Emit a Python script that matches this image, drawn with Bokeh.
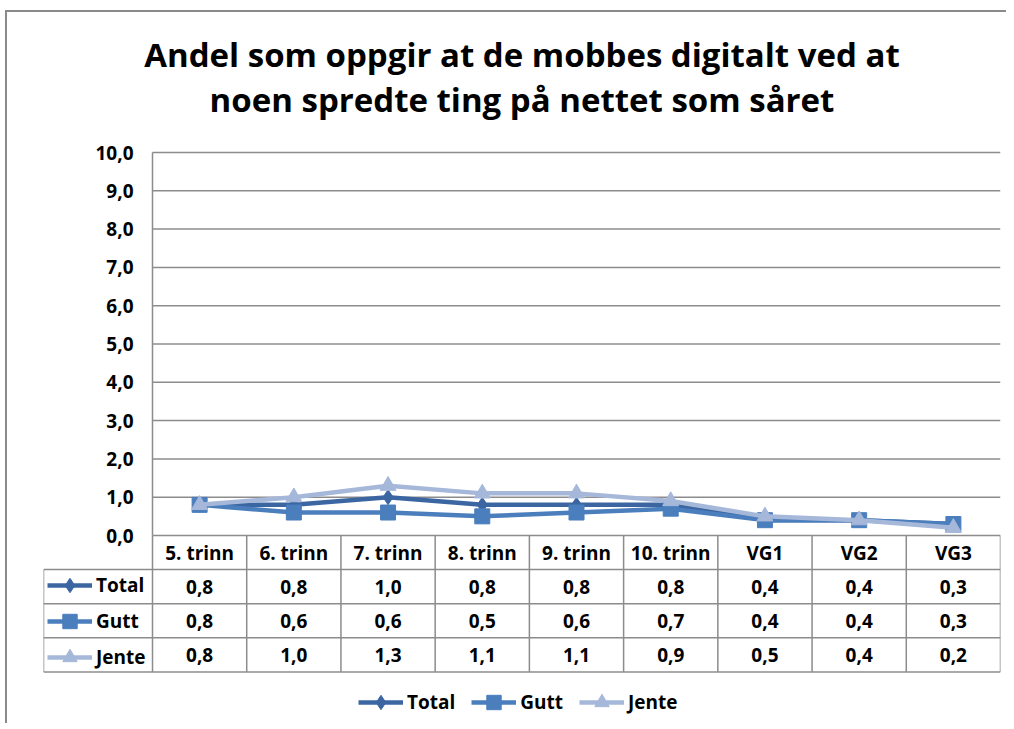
from bokeh.plotting import figure
from bokeh.models import Range1d, Legend, LegendItem, Title, ColumnDataSource
from bokeh.core.properties import value
from bokeh.embed import file_html
from bokeh.resources import INLINE

# ---------------- data ----------------
categories = ["5. trinn", "6. trinn", "7. trinn", "8. trinn", "9. trinn",
              "10. trinn", "VG1", "VG2", "VG3"]
total = [0.8, 0.8, 1.0, 0.8, 0.8, 0.8, 0.4, 0.4, 0.3]
gutt = [0.8, 0.6, 0.6, 0.5, 0.6, 0.7, 0.4, 0.4, 0.3]
jente = [0.8, 1.0, 1.3, 1.1, 1.1, 0.9, 0.5, 0.4, 0.2]
series_names = ["Total", "Gutt", "Jente"]
y_ticks = [0, 1, 2, 3, 4, 5, 6, 7, 8, 9, 10]
y_tick_labels = ["0,0", "1,0", "2,0", "3,0", "4,0", "5,0", "6,0", "7,0", "8,0", "9,0", "10,0"]
title_lines = ["Andel som oppgir at de mobbes digitalt ved at",
               "noen spredte ting på nettet som såret"]

# ---------------- styles ----------------
colors = ["#3B66A2", "#4A7EBD", "#A6B8DA"]
FONT = "Open Sans"
GRID = "#8C8C8C"
FS = "19px"

# canvas origin on the page (figure has CSS margin + border)
OX, OY = 7, 12
PAGE_W, PAGE_H = 1008, 725
W, H = PAGE_W - OX, PAGE_H - OY
TOP_PAD = 15                      # room above the 10,0 gridline for its label
FRAME_LEFT, FRAME_RIGHT, FRAME_TOP = 43 - OX, 1000 - OX, 152 - TOP_PAD - OY
PX_Y = 38.3                       # pixels per y unit
n = len(categories)
COL_PX = (FRAME_RIGHT - FRAME_LEFT - 109) / n
LEFT_COL = 109 / COL_PX
ROW = 34.1 / PX_Y
y_top = 10 + TOP_PAD / PX_Y
y_bottom = y_top - (H - FRAME_TOP) / PX_Y

p = figure(width=W, height=H, output_backend="svg", toolbar_location=None,
           x_range=Range1d(-LEFT_COL, n), y_range=Range1d(y_bottom, y_top),
           x_axis_location=None, y_axis_location=None,
           min_border=0, min_border_left=FRAME_LEFT, min_border_right=W - FRAME_RIGHT,
           min_border_top=FRAME_TOP, min_border_bottom=0)
p.outline_line_color = None
p.xgrid.visible = False
p.ygrid.visible = False
p.background_fill_color = "white"
p.border_fill_color = "white"
p.margin = (10, 0, 0, 5)
p.styles = {"border-left": "2px solid #8A8A8A", "border-top": "2px solid #8A8A8A"}

# two-line title (later added sits higher)
for line, so in zip(reversed(title_lines), [32, -37]):
    p.add_layout(Title(text=line, align="center", text_font=FONT,
                       text_font_style="bold", text_font_size="33px",
                       text_color="black", standoff=so, offset=-6), "above")

# gridlines + axis line
p.segment(x0=[0] * len(y_ticks), x1=[n] * len(y_ticks), y0=y_ticks, y1=y_ticks,
          line_color=GRID, line_width=1.5)
p.segment(x0=[0], x1=[0], y0=[10], y1=[0], line_color=GRID, line_width=1.5)

# table lines
nrows = len(series_names) + 1
vx = list(range(n + 1))
p.segment(x0=vx, x1=vx, y0=[0] * len(vx), y1=[-nrows * ROW] * len(vx),
          line_color=GRID, line_width=1.5)
p.segment(x0=[-LEFT_COL], x1=[-LEFT_COL], y0=[-ROW], y1=[-nrows * ROW],
          line_color=GRID, line_width=1.5)
hy = [-k * ROW for k in range(1, nrows + 1)]
p.segment(x0=[-LEFT_COL] * len(hy), x1=[n] * len(hy), y0=hy, y1=hy,
          line_color=GRID, line_width=1.5)

# y tick labels
p.text(x=[0] * len(y_ticks), y=y_ticks, text=y_tick_labels, x_offset=-19,
       text_align="right", text_baseline="middle", text_font=value(FONT),
       text_font_style="bold", text_font_size=FS, text_color="black")

# header row
xc = [i + 0.5 for i in range(n)]
p.text(x=xc, y=[-0.5 * ROW] * n, text=categories, text_align="center",
       text_baseline="middle", text_font=value(FONT), text_font_style="bold",
       text_font_size=FS, text_color="black")

# data cells
all_series = [total, gutt, jente]
for r, vals in enumerate(all_series):
    labels = [f"{v:.1f}".replace(".", ",") for v in vals]
    p.text(x=xc, y=[-(r + 1.5) * ROW] * n, text=labels, text_align="center",
           text_baseline="middle", text_font=value(FONT), text_font_style="bold",
           text_font_size=FS, text_color="black")

# series
markers = ["diamond", "square", "triangle"]
msizes = [15, 15, 16]
items_bottom = []
items_left = []
for name, vals, col, mk, ms in zip(series_names, all_series, colors, markers, msizes):
    src = ColumnDataSource(dict(x=xc, y=vals))
    lr = p.line("x", "y", source=src, line_color=col, line_width=4.5)
    sr = p.scatter("x", "y", source=src, marker=mk, size=ms, fill_color=col,
                   line_color=col)
    items_bottom.append(LegendItem(label=name, renderers=[lr, sr]))
    items_left.append(LegendItem(label=name, renderers=[lr, sr]))

leg_kw = dict(background_fill_alpha=0, border_line_color=None, padding=0, margin=0,
              glyph_width=45, glyph_height=36, label_standoff=4,
              label_text_font=FONT, label_text_font_style="bold",
              label_text_font_size=FS, label_text_color="black")
frame_bottom_page = PAGE_H
leg_b = Legend(items=items_bottom, orientation="horizontal",
               location=(358 - 43, frame_bottom_page - 720), spacing=16, **leg_kw)
leg_l = Legend(items=items_left, orientation="vertical",
               location=(47 - 43, frame_bottom_page - 674.5), spacing=-2, **leg_kw)
p.add_layout(leg_b, "center")
p.add_layout(leg_l, "center")

open("out.html", "w").write(file_html(p, INLINE))
